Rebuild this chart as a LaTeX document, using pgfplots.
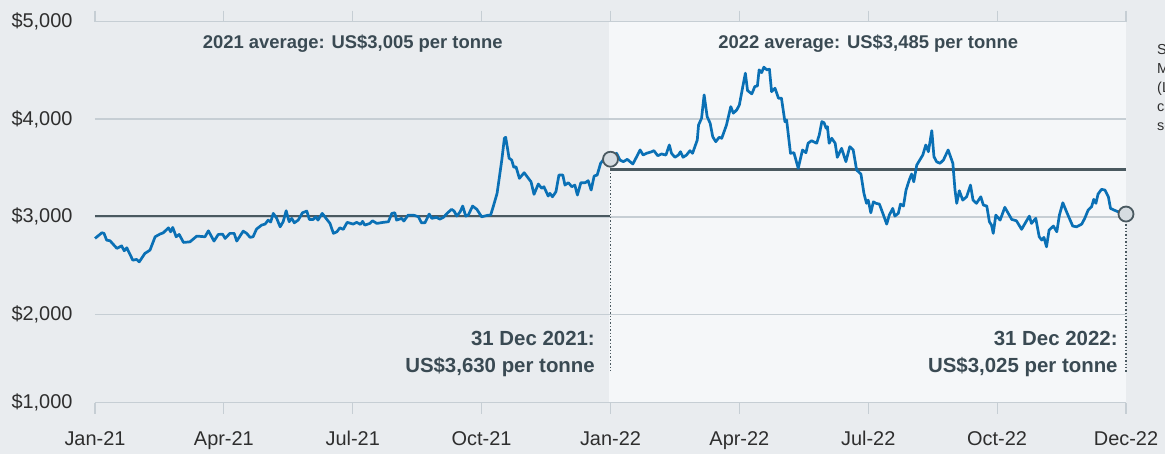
\documentclass[border=0pt]{standalone}
\usepackage{fontspec}
\setmainfont{Liberation Sans}
\usepackage{pgfplots}
\pgfplotsset{compat=1.18}

\definecolor{bgdark}{HTML}{E9ECEF}
\definecolor{bglight}{HTML}{F5F7F9}
\definecolor{gridc}{HTML}{C6CED4}
\definecolor{avgc}{HTML}{4A5960}
\definecolor{linec}{HTML}{0A70B5}
\definecolor{txt}{HTML}{2E2E2E}
\definecolor{anno}{HTML}{3A4A53}
\definecolor{markc}{HTML}{D6DCE1}

\begin{document}
\begin{tikzpicture}
\fill[bgdark] (-95bp,-51.3bp) rectangle (1070bp,402.7bp);
% 2022 half of the plot area
\fill[bglight] (514bp,0bp) rectangle (1031bp,381bp);
\begin{axis}[
  at={(0,0)}, anchor=south west,
  scale only axis, width=1031bp, height=381bp,
  clip=false,
  xmin=0, xmax=24, ymin=1094, ymax=5000,
  axis line style={draw=none},
  xtick={0,3,...,24},
  xticklabels={Jan-21,Apr-21,Jul-21,Oct-21,Jan-22,Apr-22,Jul-22,Oct-22,Dec-22},
  ytick={1094,2000,3000,4000,5000},
  yticklabels={{\$1,000},{\$2,000},{\$3,000},{\$4,000},{\$5,000}},
  ymajorgrids, grid style={gridc, line width=1.5bp},
  tick align=outside, major tick length=11bp,
  xtick style={gridc, line width=1.2bp},
  ytick style={draw=none},
  tick label style={font=\fontsize{20}{24}\selectfont, text=txt},
  xticklabel style={yshift=-14bp},
  yticklabel style={xshift=-8bp},
]
% annual averages
\addplot[avgc, line width=2.3bp] coordinates {(0,3005)(12,3005)};
\addplot[avgc, line width=2.3bp] coordinates {(12,3485)(24,3485)};

% year-end guides
\addplot[avgc, line width=1.3bp, dash pattern=on 1.4bp off 2bp] coordinates {(12,3590)(12,1400)};
\addplot[avgc, line width=1.3bp, dash pattern=on 1.4bp off 2bp] coordinates {(24,3028)(24,1400)};

% price (months since Jan-21, US$ per tonne)
\addplot[linec, line width=2.7bp, line join=round] coordinates {
(0,2778)(0.16,2836)(0.21,2830)(0.27,2761)(0.35,2754)(0.51,2676)(0.62,2702)(0.68,2651)
(0.74,2682)(0.88,2555)(0.97,2563)(1.03,2538)(1.16,2624)(1.28,2658)(1.40,2795)(1.51,2822)
(1.59,2836)(1.71,2887)(1.76,2846)(1.81,2891)(1.89,2795)(1.96,2819)(2.06,2737)(2.21,2743)
(2.37,2802)(2.56,2795)(2.64,2856)(2.77,2751)(2.87,2819)(2.97,2822)(3.03,2778)(3.14,2830)
(3.24,2830)(3.30,2751)(3.45,2853)(3.53,2830)(3.61,2789)(3.68,2795)(3.76,2874)(3.88,2915)
(3.96,2925)(4.03,2966)(4.09,2946)(4.15,3035)(4.23,2984)(4.31,2897)(4.38,2949)(4.45,3062)
(4.52,2949)(4.58,2984)(4.64,2938)(4.73,2966)(4.83,3041)(4.93,3059)(4.99,2973)(5.08,2973)
(5.14,3000)(5.19,2966)(5.29,3035)(5.41,2966)(5.47,2932)(5.55,2830)(5.63,2846)(5.70,2887)
(5.78,2871)(5.87,2943)(6.01,2925)(6.09,2943)(6.18,2922)(6.23,2953)(6.28,2915)(6.40,2932)
(6.46,2959)(6.56,2932)(6.71,2943)(6.83,2949)(6.91,3035)(6.98,3041)(7.02,2966)(7.14,2984)
(7.19,2956)(7.29,3017)(7.41,3017)(7.53,3000)(7.60,2938)(7.68,2938)(7.78,3028)(7.84,2984)
(7.95,2994)(8.03,2976)(8.11,2994)(8.22,3045)(8.30,3076)(8.36,3059)(8.42,3007)(8.50,3051)
(8.56,3110)(8.63,3007)(8.69,3017)(8.79,3110)(8.89,3076)(9.00,3000)(9.16,3017)(9.21,3017)
(9.27,3103)(9.36,3240)(9.47,3582)(9.53,3805)(9.56,3815)(9.64,3600)(9.70,3582)(9.75,3507)
(9.80,3513)(9.88,3394)(9.99,3452)(10.15,3359)(10.22,3230)(10.32,3336)(10.40,3292)(10.45,3308)
(10.55,3213)(10.59,3240)(10.65,3205)(10.73,3257)(10.80,3428)(10.89,3428)(10.94,3325)(11.02,3349)
(11.10,3308)(11.17,3325)(11.23,3223)(11.31,3349)(11.41,3349)(11.48,3370)(11.55,3274)(11.62,3418)
(11.69,3428)(11.77,3548)(11.83,3582)(12.00,3590)(12.14,3651)(12.22,3582)(12.30,3565)(12.39,3589)
(12.52,3541)(12.61,3616)(12.69,3685)(12.76,3633)(12.84,3651)(12.96,3667)(13.01,3678)(13.10,3626)
(13.19,3644)(13.29,3633)(13.37,3736)(13.42,3651)(13.50,3610)(13.58,3633)(13.63,3667)(13.69,3610)
(13.77,3633)(13.85,3678)(13.91,3651)(14.02,3787)(14.05,3941)(14.12,4010)(14.18,4250)(14.25,4027)
(14.32,3959)(14.38,3821)(14.45,3770)(14.53,3815)(14.59,3805)(14.70,3941)(14.80,4129)(14.86,4062)
(14.94,4096)(15.00,4147)(15.08,4335)(15.14,4472)(15.19,4294)(15.29,4260)(15.36,4335)(15.42,4342)
(15.46,4506)(15.52,4478)(15.57,4534)(15.64,4506)(15.70,4513)(15.75,4283)(15.83,4318)(15.91,4216)
(15.98,4216)(16.06,3975)(16.10,3993)(16.19,3651)(16.27,3657)(16.37,3497)(16.47,3685)(16.55,3657)
(16.60,3754)(16.68,3780)(16.80,3754)(16.86,3839)(16.92,3975)(16.97,3965)(17.02,3908)(17.05,3924)
(17.09,3754)(17.15,3805)(17.23,3754)(17.28,3610)(17.38,3702)(17.48,3565)(17.57,3719)(17.65,3685)
(17.73,3479)(17.83,3438)(17.90,3240)(17.96,3138)(18.00,3171)(18.06,3041)(18.12,3154)(18.18,3138)
(18.26,3130)(18.34,3035)(18.43,2925)(18.49,3017)(18.57,3086)(18.62,3007)(18.70,3035)(18.75,3130)
(18.82,3110)(18.88,3274)(18.96,3384)(19.01,3438)(19.06,3359)(19.13,3531)(19.20,3582)(19.27,3633)
(19.34,3736)(19.40,3667)(19.48,3883)(19.53,3616)(19.59,3565)(19.67,3548)(19.75,3582)(19.86,3685)
(19.97,3548)(20.02,3274)(20.06,3138)(20.12,3267)(20.20,3171)(20.29,3205)(20.38,3325)(20.44,3171)
(20.52,3138)(20.62,3205)(20.68,3120)(20.76,3110)(20.82,2949)(20.87,2915)(20.91,2830)(20.97,3017)
(21.07,2966)(21.18,3097)(21.26,3035)(21.34,2973)(21.45,2959)(21.57,2871)(21.65,2932)(21.75,3007)
(21.80,2932)(21.90,2984)(21.98,2795)(22.04,2761)(22.09,2789)(22.15,2692)(22.21,2863)(22.31,2905)
(22.39,2846)(22.45,3017)(22.53,3144)(22.60,3069)(22.66,3007)(22.76,2905)(22.85,2897)(22.97,2925)
(23.04,2984)(23.12,3069)(23.20,3103)(23.25,3179)(23.30,3138)(23.35,3233)(23.43,3281)(23.51,3274)
(23.59,3205)(23.64,3086)(23.72,3069)(23.82,3051)(24.00,3028)
};

% year-end points
\addplot[only marks, mark=*, mark size=7.5bp,
  mark options={fill=markc, draw=avgc, line width=1.8bp}] coordinates {(12,3590)(24,3028)};

% annotations
\node[anchor=base, font=\fontsize{18.5}{22}\selectfont\bfseries, text=anno]
  at (axis cs:6,4729) {2021 average: US\$3,005 per tonne};
\node[anchor=base, font=\fontsize{18.5}{22}\selectfont\bfseries, text=anno]
  at (axis cs:18,4729) {2022 average: US\$3,485 per tonne};
\node[anchor=base east, font=\fontsize{20.5}{24}\selectfont\bfseries, text=anno, inner sep=0pt]
  at (axis cs:11.64,1678) {31 Dec 2021:};
\node[anchor=base east, font=\fontsize{20.5}{24}\selectfont\bfseries, text=anno, inner sep=0pt]
  at (axis cs:11.64,1408) {US\$3,630 per tonne};
\node[anchor=base east, font=\fontsize{20.5}{24}\selectfont\bfseries, text=anno, inner sep=0pt]
  at (axis cs:23.81,1678) {31 Dec 2022:};
\node[anchor=base east, font=\fontsize{20.5}{24}\selectfont\bfseries, text=anno, inner sep=0pt]
  at (axis cs:23.81,1408) {US\$3,025 per tonne};
\end{axis}
% side note, cut by the page edge as in the source
\node[overlay, anchor=north west, align=left, inner sep=0pt, text=txt,
  font=\fontsize{14.5}{19}\selectfont] at (1062bp,358bp)
  {Source:\\Metal\\(LME)\\cash\\settlement};
\end{tikzpicture}
\end{document}
